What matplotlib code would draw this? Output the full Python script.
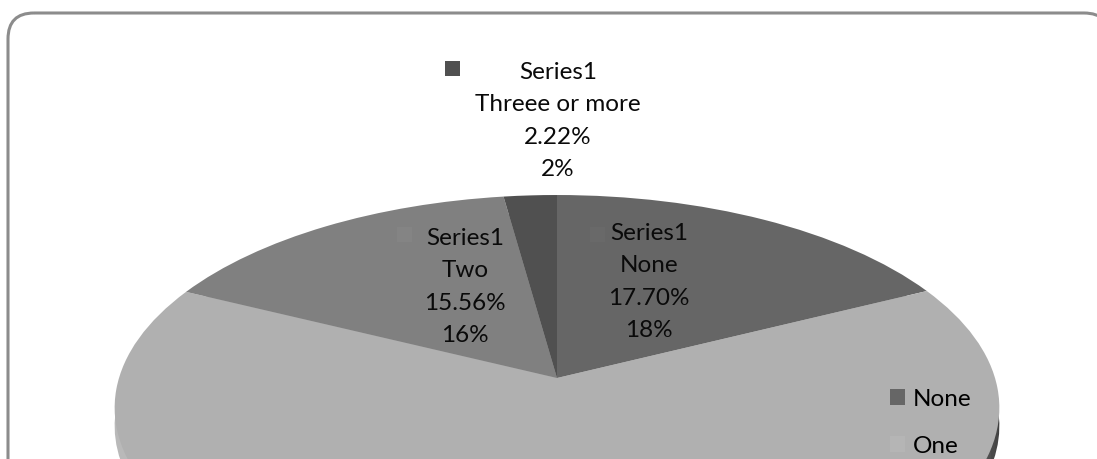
import numpy as np
import matplotlib
matplotlib.use("Agg")
import matplotlib.pyplot as plt
from matplotlib.patches import Circle, FancyBboxPatch, Patch, Rectangle
from matplotlib.transforms import Affine2D, Transform

categories = ["None", "One", "Two", "Threee or more"]
shares = [17.70, 64.52, 15.56, 2.22]
slice_colors = ["#666666", "#b0b0b0", "#808080", "#505050"]
series_name = "Series1"
legend_names = ["None", "One"]
legend_colors = ["#666666", "#b5b5b5"]

plt.rcParams["font.family"] = ["Lato", "DejaVu Sans"]
TEXT_SIZE = 17.5


class TiltedDisc(Transform):
    """Projects the unit pie disc onto the page as a tilted, receding disc."""
    input_dims = 2
    output_dims = 2
    is_separable = False
    has_inverse = False

    def __init__(self, cx, cy, half_width, half_height, recede):
        super().__init__()
        self.cx, self.cy = cx, cy
        self.half_width, self.half_height = half_width, half_height
        self.recede = recede

    def transform_non_affine(self, values):
        values = np.asarray(values, dtype=float)
        depth = 1 + self.recede * values[:, 1]
        return np.column_stack([
            self.cx + self.half_width * values[:, 0] / depth,
            self.cy - self.half_height * values[:, 1] / depth,
        ])


fig = plt.figure(figsize=(10.97, 4.59), dpi=100, facecolor="white")
ax = fig.add_axes([0, 0, 1, 1])

wedges, _ = ax.pie(shares, colors=slice_colors, startangle=90, counterclock=False,
                   wedgeprops={"linewidth": 0})
ax.set_aspect("auto")
ax.axis("off")

disc = TiltedDisc(557, 378, 438, 208.6, 0.14)
for wedge in wedges:
    wedge.set_transform(disc + ax.transData)
    wedge.set_zorder(3)

# Side wall of the pie: the same disc pushed down, shaded from left to right
wall_outline = Circle((0, 0), 1, transform=disc + Affine2D().translate(0, 18) + ax.transData)
shade = np.linspace(0, 1, 256).reshape(1, -1) ** 12
wall = ax.imshow(shade, extent=(110, 1005, 459, 190), aspect="auto", cmap="gray_r",
                 vmin=-0.55, vmax=1.45, zorder=2)
wall.set_clip_path(wall_outline)
ax.set_xlim(0, 1097)
ax.set_ylim(459, 0)

# Rounded frame running past the right and bottom of the page
ax.add_patch(FancyBboxPatch((8, 13), 1102, 600, boxstyle="round,pad=0,rounding_size=26",
                            facecolor="none", edgecolor="#8c8c8c", linewidth=2.2, zorder=5))

label_anchors = {0: (649, 282), 2: (465, 287), 3: (558, 121)}
for index, (x, y) in label_anchors.items():
    value = shares[index]
    ax.text(x, y, f"{series_name}\n{categories[index]}\n{value:.2f}%\n{value:.0f}%",
            ha="center", va="center", fontsize=TEXT_SIZE, color="#0a0a0a",
            linespacing=1.67, zorder=6)

# Colour keys that sit beside the data labels
key_positions = {0: (590, 227, "#696969"), 2: (397, 227, "#848484"), 3: (445, 61, "#505050")}
for x, y, color in key_positions.values():
    ax.add_patch(Rectangle((x, y), 15, 15, facecolor=color, edgecolor="none", zorder=6))

handles = [Patch(facecolor=c, edgecolor="none") for c in legend_colors]
ax.legend(handles, legend_names, loc="upper left", bbox_to_anchor=(883, 381.5),
          bbox_transform=ax.transData, frameon=False, fontsize=TEXT_SIZE,
          handlelength=0.62, handleheight=0.62, handletextpad=0.29, labelspacing=1.07,
          borderpad=0.3, borderaxespad=0).set_zorder(6)

fig.savefig("out.png", dpi=100, facecolor="white")
